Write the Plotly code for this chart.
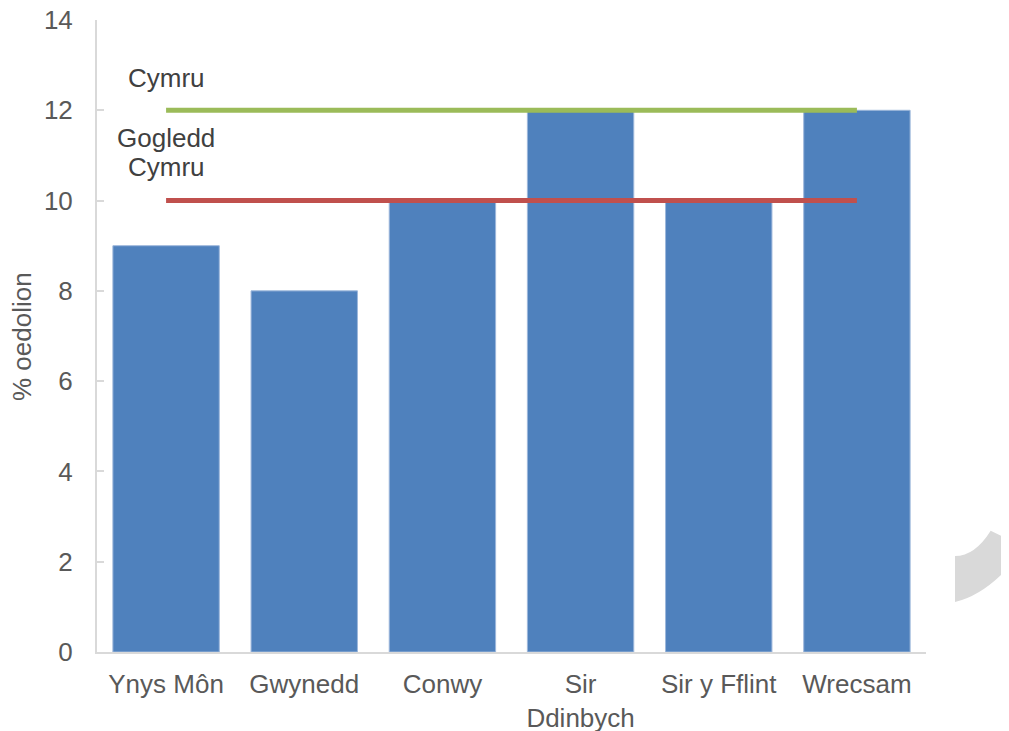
"""Adults % by local authority, North Wales, with Wales and North Wales reference lines."""

import plotly.graph_objects as go

areas = ["Ynys Môn", "Gwynedd", "Conwy", "Sir<br>Ddinbych", "Sir y Fflint", "Wrecsam"]
pct_adults = [9, 8, 10, 12, 10, 12]
cymru_value = 12
gogledd_cymru_value = 10
y_ticks = [0, 2, 4, 6, 8, 10, 12, 14]

FONT = "Liberation Sans, Arial, sans-serif"
TEXT = "#595959"
LABEL = "#404040"

fig = go.Figure()
fig.add_trace(go.Bar(
    x=areas, y=pct_adults,
    marker=dict(color="#4F81BD", line=dict(color="#9DB7DB", width=1)),
    name="% oedolion",
))
fig.add_trace(go.Scatter(
    x=areas, y=[cymru_value] * len(areas),
    mode="lines", name="Cymru",
    line=dict(color="#9BBB59", width=5),
))
fig.add_trace(go.Scatter(
    x=areas, y=[gogledd_cymru_value] * len(areas),
    mode="lines", name="Gogledd Cymru",
    line=dict(color="#C0504D", width=5),
))

# labels for the two reference lines, sitting above their left ends
fig.add_annotation(x=areas[0], y=cymru_value, text="Cymru", showarrow=False,
                   yshift=32, font=dict(size=26, color=LABEL, family=FONT))
fig.add_annotation(x=areas[0], y=gogledd_cymru_value, text="Gogledd", showarrow=False,
                   yshift=63, font=dict(size=26, color=LABEL, family=FONT))
fig.add_annotation(x=areas[0], y=gogledd_cymru_value, text="Cymru", showarrow=False,
                   yshift=34, font=dict(size=26, color=LABEL, family=FONT))

# y axis title placed by hand so it sits where the original has it
fig.add_annotation(xref="paper", yref="paper", x=-0.0905, y=0.5, text="% oedolion",
                   xanchor="center", yanchor="middle",
                   textangle=-90, showarrow=False, font=dict(size=26, color=TEXT, family=FONT))

# stray grey curl at the right edge of the original picture
fig.add_shape(
    type="path", xref="paper", yref="paper",
    path="M 1.035,0.1519 Q 1.059,0.1519 1.078,0.1919 L 1.105,0.1750 L 1.105,0.1420 "
         "Q 1.071,0.0902 1.035,0.0791 Z",
    fillcolor="#D9D9D9", line=dict(width=0), layer="above",
)

# the page body adds 8px on the top and left, so the figure is trimmed to suit
fig.update_layout(
    width=1001, height=723,
    plot_bgcolor="white", paper_bgcolor="white",
    margin=dict(l=89, r=83, t=12, b=79),
    bargap=0.23,
    showlegend=False,
    font=dict(family=FONT, color=TEXT, size=26),
    xaxis=dict(
        showline=True, linecolor="#D9D9D9", linewidth=2,
        ticks="", tickfont=dict(size=26, color=TEXT),
        ticklabelstandoff=8, ticklabeloverflow="allow",
        showgrid=False, automargin=False,
    ),
    yaxis=dict(
        range=[0, 14], tickvals=y_ticks,
        showline=True, linecolor="#D9D9D9", linewidth=2,
        ticks="inside", ticklen=7, tickcolor="#D9D9D9", tickwidth=2,
        ticklabelstandoff=17, ticklabeloverflow="allow",
        showgrid=False, zeroline=False, automargin=False,
        tickfont=dict(size=26, color=TEXT),
    ),
)

fig.write_html("out.html")
